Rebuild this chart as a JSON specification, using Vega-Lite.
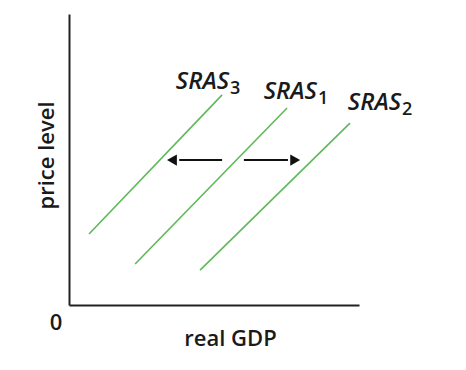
{
  "$schema": "https://vega.github.io/schema/vega-lite/v6.json",
  "width": 290,
  "height": 291,
  "autosize": {"type": "none"},
  "padding": {"left": 69, "top": 14, "right": 107, "bottom": 65},
  "background": "white",
  "config": {"view": {"stroke": null}, "font": "Open Sans"},
  "datasets": {
    "curves": [
      {"curve": "SRAS3", "x": 6.9, "y": 24.4},
      {"curve": "SRAS3", "x": 52.8, "y": 72.2},
      {"curve": "SRAS1", "x": 22.8, "y": 14.1},
      {"curve": "SRAS1", "x": 75.2, "y": 67.7},
      {"curve": "SRAS2", "x": 45.2, "y": 12.0},
      {"curve": "SRAS2", "x": 96.9, "y": 62.5}
    ],
    "labels": [
      {"main": "SRAS", "sub": "3", "x": 55.2, "y": 74.2},
      {"main": "SRAS", "sub": "1", "x": 85.5, "y": 70.8},
      {"main": "SRAS", "sub": "2", "x": 114.5, "y": 67.0}
    ],
    "arrows": [
      {"dir": "left", "x1": 52.8, "x2": 38.0, "tip": 35.5, "y": 49.8},
      {"dir": "right", "x1": 60.3, "x2": 75.5, "tip": 78.0, "y": 49.8}
    ],
    "origin": [{"t": "0", "x": 0, "y": 0}]
  },
  "layer": [
    {
      "data": {"name": "curves"},
      "mark": {"type": "line", "color": "#5fb85a", "strokeWidth": 1.6, "clip": false},
      "encoding": {
        "x": {"field": "x", "type": "quantitative", "scale": {"domain": [0, 100]},
          "axis": {"title": "real GDP", "domainColor": "#222", "domainWidth": 2, "ticks": false, "labels": false, "grid": false,
            "titleFont": "Open Sans", "titleFontSize": 22, "titleFontWeight": 600, "titleColor": "#1a1a1a", "titleX": 161, "titleY": 40, "titleBaseline": "alphabetic", "titleAlign": "center"}},
        "y": {"field": "y", "type": "quantitative", "scale": {"domain": [0, 100]},
          "axis": {"title": "price level", "domainColor": "#222", "domainWidth": 2, "ticks": false, "labels": false, "grid": false,
            "titleFont": "Open Sans", "titleFontSize": 22, "titleFontWeight": 600, "titleColor": "#1a1a1a", "titleX": -16, "titleY": 141, "titleBaseline": "alphabetic", "titleAlign": "center"}},
        "detail": {"field": "curve"}
      }
    },
    {
      "data": {"name": "labels"},
      "mark": {"type": "text", "align": "right", "baseline": "alphabetic", "fontSize": 24, "fontStyle": "italic", "fontWeight": 600, "font": "Open Sans", "color": "#1a1a1a", "clip": false},
      "encoding": {
        "x": {"field": "x", "type": "quantitative"},
        "y": {"field": "y", "type": "quantitative"},
        "text": {"field": "main"}
      }
    },
    {
      "data": {"name": "labels"},
      "mark": {"type": "text", "align": "left", "baseline": "alphabetic", "fontSize": 18, "fontWeight": 600, "font": "Open Sans", "color": "#1a1a1a", "dy": 5, "dx": 1, "clip": false},
      "encoding": {
        "x": {"field": "x", "type": "quantitative"},
        "y": {"field": "y", "type": "quantitative"},
        "text": {"field": "sub"}
      }
    },
    {
      "data": {"name": "arrows"},
      "mark": {"type": "rule", "color": "#111", "strokeWidth": 2},
      "encoding": {
        "x": {"field": "x1", "type": "quantitative"},
        "x2": {"field": "x2"},
        "y": {"field": "y", "type": "quantitative"}
      }
    },
    {
      "data": {"name": "arrows"},
      "mark": {"type": "point", "filled": true, "color": "#111", "opacity": 1, "size": 130},
      "encoding": {
        "x": {"field": "tip", "type": "quantitative"},
        "y": {"field": "y", "type": "quantitative"},
        "shape": {"field": "dir", "type": "nominal", "scale": {"domain": ["left", "right"], "range": ["triangle-left", "triangle-right"]}, "legend": null}
      }
    },
    {
      "data": {"name": "origin"},
      "mark": {"type": "text", "fontSize": 22, "fontWeight": 600, "font": "Open Sans", "color": "#1a1a1a", "dx": -13, "dy": 18, "clip": false},
      "encoding": {
        "x": {"field": "x", "type": "quantitative"},
        "y": {"field": "y", "type": "quantitative"},
        "text": {"field": "t"}
      }
    }
  ]
}
